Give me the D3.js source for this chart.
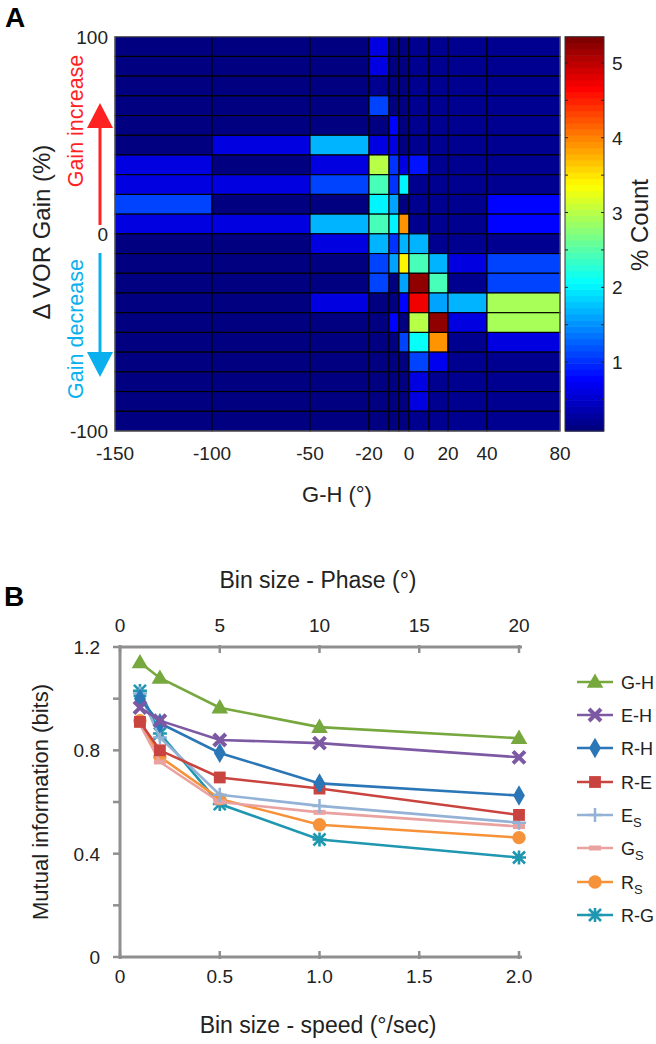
<!DOCTYPE html>
<html><head><meta charset="utf-8">
<script src="https://cdn.jsdelivr.net/npm/d3@7"></script>
<style>body{margin:0;background:#fff}svg{display:block}text{font-family:Arial,"Liberation Sans",sans-serif;fill:#222}</style>
</head><body><svg id="c" width="656" height="1044"></svg>
<script>
// ---------- Panel A data ----------
const ghEdges = [-150,-100,-50,-20,-10,-5,0,10,20,40,80];
const ghTicks = [-150,-100,-50,-20,0,20,40,80];
const gainEdges = [100,90,80,70,60,50,40,30,20,10,0,-10,-20,-30,-40,-50,-60,-70,-80,-90,-100];
const gainTicks = [100,0,-100];
// % count, rows top (90..100) to bottom (-100..-90), columns follow ghEdges bins
const countPct = [
 [0.12,0.12,0.15,0.65,0.15,0.15,0.2,0.2,0.22,0.22],
 [0.12,0.12,0.15,0.6,0.15,0.15,0.2,0.2,0.22,0.22],
 [0.12,0.12,0.15,0.2,0.15,0.15,0.2,0.2,0.22,0.22],
 [0.12,0.12,0.15,1.15,0.15,0.15,0.2,0.2,0.22,0.22],
 [0.12,0.12,0.15,0.15,0.75,0.15,0.2,0.2,0.22,0.22],
 [0.12,0.6,1.65,0.6,0.6,0.15,0.2,0.2,0.22,0.22],
 [0.6,0.12,0.65,3.0,1.0,0.6,0.85,0.2,0.22,0.22],
 [0.6,0.6,1.15,2.4,1.0,2.05,0.2,0.2,0.22,0.22],
 [1.15,0.12,0.15,2.05,1.6,0.15,0.2,0.2,0.22,0.75],
 [0.6,0.6,1.65,2.4,2.05,3.95,0.2,0.2,0.22,0.75],
 [0.12,0.12,0.6,1.65,1.0,1.65,1.65,0.2,0.22,0.22],
 [0.12,0.12,0.15,1.1,1.6,3.45,2.45,1.65,0.6,1.1],
 [0.12,0.12,0.15,1.1,0.15,1.6,5.2,2.45,0.22,1.1],
 [0.12,0.12,0.6,0.15,0.15,0.75,4.7,1.6,1.65,2.95],
 [0.12,0.12,0.15,0.15,0.75,0.15,3.0,5.2,0.65,2.95],
 [0.12,0.12,0.15,0.15,0.15,1.1,2.1,3.95,0.22,0.65],
 [0.12,0.12,0.15,0.15,0.15,0.15,1.1,0.7,0.22,0.22],
 [0.12,0.12,0.15,0.15,0.15,0.15,0.6,0.2,0.22,0.22],
 [0.12,0.12,0.15,0.15,0.15,0.15,0.6,0.2,0.22,0.22],
 [0.12,0.12,0.15,0.15,0.15,0.15,0.2,0.2,0.22,0.22]
];
const cbDomain = [0.08, 5.35];
const cbTicks = [1,2,3,4,5];
const cbMinor = [0.5,1,1.5,2,2.5,3,3.5,4,4.5,5];

// ---------- Panel B data ----------
const phaseBins = [1,2,5,10,20];
const phaseTicks = [0,5,10,15,20];
const speedTicks = [0,0.5,1.0,1.5,2.0];
const speedTickLabels = ["0","0.5","1.0","1.5","2.0"];
const miTicks = [0,0.2,0.4,0.6,0.8,1.0,1.2];
const miLabels = [0,0.4,0.8,1.2];
const seriesNames = ["G-H","E-H","R-H","R-E","E_S","G_S","R_S","R-G"];
const miGH = [1.14,1.08,0.965,0.89,0.847];
const miEH = [0.965,0.915,0.84,0.828,0.773];
const miRH = [1.0,0.905,0.79,0.672,0.625];
const miRE = [0.91,0.80,0.695,0.652,0.55];
const miES = [1.02,0.85,0.628,0.585,0.52];
const miGS = [0.90,0.755,0.60,0.56,0.505];
const miRS = [0.915,0.775,0.612,0.512,0.462];
const miRG = [1.03,0.865,0.592,0.455,0.385];
const seriesColors = ["#77a83e","#7d58a3","#2a76b6","#c9443f","#93b2d6","#e9a2a0","#f6923a","#1f97b0"];
const seriesMarkers = ["triangle","x","diamond","square","plus","dash","circle","star"];

const svg = d3.select("#c");

// jet colormap
function jet(t){
  t = Math.max(0, Math.min(1, t));
  const c = v => Math.round(255*Math.max(0, Math.min(1, v)));
  return `rgb(${c(1.5-Math.abs(4*t-3))},${c(1.5-Math.abs(4*t-2))},${c(1.5-Math.abs(4*t-1))})`;
}
const cnorm = d3.scaleLinear().domain(cbDomain).range([0,1]).clamp(true);
const color = v => jet(Math.floor(cnorm(v)*63.999)/63);

// ---------- Panel A ----------
const xA = d3.scaleLinear().domain(ghEdges).range([115,212,310,369,389,399,409,429,448,487,560]);
const yA = d3.scaleLinear().domain([-100,100]).range([431,36.7]);

const gA = svg.append("g");
const cells = [];
countPct.forEach((row, i) => row.forEach((v, j) => cells.push({x0:ghEdges[j], x1:ghEdges[j+1], y0:gainEdges[i+1], y1:gainEdges[i], v})));
gA.selectAll("rect.cell").data(cells).join("rect").attr("class","cell")
  .attr("x", d => xA(d.x0)).attr("y", d => yA(d.y1))
  .attr("width", d => xA(d.x1)-xA(d.x0)).attr("height", d => yA(d.y0)-yA(d.y1))
  .attr("fill", d => color(d.v)).attr("stroke","#000").attr("stroke-width",1.1);
gA.append("rect").attr("x",xA(-150)).attr("y",yA(100)).attr("width",xA(80)-xA(-150)).attr("height",yA(-100)-yA(100))
  .attr("fill","none").attr("stroke","#777").attr("stroke-width",1);

gA.selectAll("text.xt").data(ghTicks).join("text").attr("class","xt")
  .attr("x", d => xA(d)).attr("y", 460).attr("text-anchor","middle").attr("font-size",19).text(d => d);
gA.selectAll("text.yt").data(gainTicks).join("text").attr("class","yt")
  .attr("x", 108).attr("y", d => yA(d)+7).attr("text-anchor","end").attr("font-size",19).text(d => d);
gA.append("text").attr("x",337).attr("y",502).attr("text-anchor","middle").attr("font-size",22).text("G-H (°)");
gA.append("text").attr("transform","translate(50,232) rotate(-90)").attr("text-anchor","middle").attr("font-size",24).text("Δ VOR Gain (%)");
gA.append("text").attr("transform","translate(83,121) rotate(-90)").attr("text-anchor","middle").attr("font-size",21.5).style("fill","#ff2222").text("Gain increase");
gA.append("text").attr("transform","translate(83,329) rotate(-90)").attr("text-anchor","middle").attr("font-size",21.5).style("fill","#0ab0ee").text("Gain decrease");
// arrows
gA.append("line").attr("x1",100).attr("x2",100).attr("y1",225).attr("y2",122).attr("stroke","#ff2222").attr("stroke-width",3);
gA.append("path").attr("d","M100,103 L87,128 L113,128 Z").attr("fill","#ff2222");
gA.append("line").attr("x1",100).attr("x2",100).attr("y1",253).attr("y2",357).attr("stroke","#0ab0ee").attr("stroke-width",3);
gA.append("path").attr("d","M100,377 L87,352 L113,352 Z").attr("fill","#0ab0ee");
svg.append("text").attr("x",5).attr("y",27).attr("font-size",28).attr("font-weight","bold").style("fill","#000").text("A");

// colorbar
const cbX = 565, cbW = 39;
const yCB = d3.scaleLinear().domain(cbDomain).range([431,36.7]);
const bands = d3.range(64);
svg.selectAll("rect.cb").data(bands).join("rect").attr("class","cb")
  .attr("x",cbX).attr("width",cbW)
  .attr("y", k => yCB(cbDomain[0] + (k+1)*(cbDomain[1]-cbDomain[0])/64))
  .attr("height", (431-36.7)/64 + 0.6)
  .attr("fill", k => jet(k/63));
svg.append("rect").attr("x",cbX).attr("y",36.7).attr("width",cbW).attr("height",431-36.7).attr("fill","none").attr("stroke","#333").attr("stroke-width",1);
svg.selectAll("path.cbt").data(cbMinor).join("path").attr("class","cbt")
  .attr("d", d => `M${cbX},${yCB(d)}h3M${cbX+cbW},${yCB(d)}h-3`).attr("stroke","#222").attr("stroke-width",1);
svg.selectAll("text.cbl").data(cbTicks).join("text").attr("class","cbl")
  .attr("x",612).attr("y", d => yCB(d)+7).attr("font-size",19).text(d => d);
svg.append("text").attr("transform","translate(648,225) rotate(-90)").attr("text-anchor","middle").attr("font-size",24).text("% Count");

// ---------- Panel B ----------
const xB = d3.scaleLinear().domain([0,20]).range([120,519]);
const xS = d3.scaleLinear().domain([0,2]).range([120,519]);
const yB = d3.scaleLinear().domain([0,1.2]).range([957,647]);
const gB = svg.append("g");
const axc = "#8f8f8f";
gB.append("line").attr("x1",120).attr("x2",522).attr("y1",647).attr("y2",647).attr("stroke",axc).attr("stroke-width",3);
gB.append("line").attr("x1",120).attr("x2",522).attr("y1",957).attr("y2",957).attr("stroke",axc).attr("stroke-width",3);
gB.append("line").attr("x1",120).attr("x2",120).attr("y1",645.5).attr("y2",958.5).attr("stroke",axc).attr("stroke-width",3);
gB.selectAll("line.tt").data(phaseTicks).join("line").attr("class","tt")
  .attr("x1",d=>xB(d)).attr("x2",d=>xB(d)).attr("y1",645).attr("y2",653).attr("stroke",axc).attr("stroke-width",2.5);
gB.selectAll("line.bt").data(speedTicks).join("line").attr("class","bt")
  .attr("x1",d=>xS(d)).attr("x2",d=>xS(d)).attr("y1",951).attr("y2",959).attr("stroke",axc).attr("stroke-width",2.5);
gB.selectAll("line.lt").data(miTicks).join("line").attr("class","lt")
  .attr("x1",113).attr("x2",121).attr("y1",d=>yB(d)).attr("y2",d=>yB(d)).attr("stroke",axc).attr("stroke-width",2.5);
gB.selectAll("text.ptl").data(phaseTicks).join("text").attr("class","ptl")
  .attr("x",d=>xB(d)).attr("y",632).attr("text-anchor","middle").attr("font-size",19).text(d=>d);
gB.selectAll("text.stl").data(speedTicks).join("text").attr("class","stl")
  .attr("x",d=>xS(d)).attr("y",983).attr("text-anchor","middle").attr("font-size",19).text((d,i)=>speedTickLabels[i]);
gB.selectAll("text.ml").data(miLabels).join("text").attr("class","ml")
  .attr("x",100).attr("y",d=>yB(d)+7).attr("text-anchor","end").attr("font-size",19).text(d=>d===0?"0":d.toFixed(1));
gB.append("text").attr("x",318).attr("y",588).attr("text-anchor","middle").attr("font-size",23).text("Bin size - Phase (°)");
gB.append("text").attr("x",318).attr("y",1033).attr("text-anchor","middle").attr("font-size",23).text("Bin size - speed (°/sec)");
gB.append("text").attr("transform","translate(48,802) rotate(-90)").attr("text-anchor","middle").attr("font-size",22).text("Mutual information (bits)");
svg.append("text").attr("x",4).attr("y",606).attr("font-size",28).attr("font-weight","bold").style("fill","#000").text("B");

function marker(g, type, col){
  switch(type){
    case "triangle": g.append("path").attr("d", d3.symbol(d3.symbolTriangle, 120)()).attr("transform","translate(0,1)").attr("fill",col); break;
    case "diamond": g.append("path").attr("d", d3.symbol(d3.symbolDiamond, 120)()).attr("fill",col); break;
    case "square": g.append("path").attr("d", d3.symbol(d3.symbolSquare, 140)()).attr("fill",col); break;
    case "circle": g.append("path").attr("d", d3.symbol(d3.symbolCircle, 140)()).attr("fill",col); break;
    case "x": g.append("path").attr("d","M-6,-6L6,6M-6,6L6,-6").attr("stroke",col).attr("stroke-width",4).attr("fill","none"); break;
    case "plus": g.append("path").attr("d","M-7,0H7M0,-7V7").attr("stroke",col).attr("stroke-width",2.5).attr("fill","none"); break;
    case "dash": g.append("rect").attr("x",-6).attr("y",-2.5).attr("width",12).attr("height",5).attr("fill",col); break;
    case "star": g.append("path").attr("d","M-6,-6L6,6M-6,6L6,-6M-7,0H7M0,-7V7").attr("stroke",col).attr("stroke-width",2.6).attr("fill","none"); break;
  }
}
const allSeries = [miGH,miEH,miRH,miRE,miES,miGS,miRS,miRG];
const line = d3.line().x((d,i)=>xB(phaseBins[i])).y(d=>yB(d));
for (let s = allSeries.length-1; s >= 0; s--) {
  const g = gB.append("g");
  g.append("path").attr("d", line(allSeries[s])).attr("fill","none").attr("stroke",seriesColors[s]).attr("stroke-width",2.6);
  allSeries[s].forEach((v,i)=>{ marker(g.append("g").attr("transform",`translate(${xB(phaseBins[i])},${yB(v)})`), seriesMarkers[s], seriesColors[s]); });
}
// legend
const legY = [682,715,748,782,815,848,882,915];
seriesNames.forEach((nm, s) => {
  const g = svg.append("g").attr("transform",`translate(0,${legY[s]})`);
  g.append("line").attr("x1",577).attr("x2",613).attr("stroke",seriesColors[s]).attr("stroke-width",2.6);
  marker(g.append("g").attr("transform","translate(595,0)"), seriesMarkers[s], seriesColors[s]);
  const t = g.append("text").attr("x",621).attr("y",7).attr("font-size",18);
  if (nm.includes("_")) {
    const [a,b] = nm.split("_");
    t.append("tspan").text(a);
    t.append("tspan").attr("font-size",13).attr("dy",5).text(b);
  } else t.text(nm);
});
</script></body></html>
